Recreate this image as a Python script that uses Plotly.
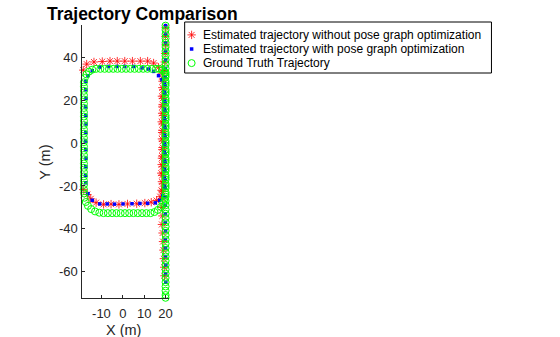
import plotly.graph_objects as go

# ---------------- data ----------------
# Ground truth trajectory
gt_x = [
    # right vertical column
    20, 20, 20, 20, 20, 20, 20, 20, 20, 20, 20, 20, 20, 20, 20, 20, 20, 20, 20, 20,
    20, 20, 20, 20, 20, 20, 20, 20, 20, 20, 20, 20, 20, 20, 20, 20, 20, 20, 20, 20,
    20, 20, 20, 20, 20, 20, 20, 20, 20, 20, 20, 20, 20, 20, 20, 20, 20, 20, 20, 20,
    20, 20, 20, 20, 20,
    # right column, second pass
    20, 20, 20, 20, 20, 20, 20, 20, 20, 20, 20, 20, 20, 20, 20,
    # top-right corner
    19.5, 18.5, 17.0,
    # top row
    15.5, 13.5, 11.5, 9.5, 7.5, 5.5, 3.5, 1.5, -0.5, -2.5, -4.5, -6.5, -8.5, -10.5, -12.5,
    # top-left corner
    -14.3, -15.8, -17.0, -17.8,
    # left column
    -18.2, -18.2, -18.2, -18.2, -18.2, -18.2, -18.2, -18.2, -18.2, -18.2, -18.2, -18.2, -18.2,
    -18.2, -18.2, -18.2, -18.2, -18.2, -18.2, -18.2, -18.2, -18.2, -18.2, -18.2, -18.2, -18.2,
    # bottom-left corner
    -18.1, -17.9, -17.3, -16.3, -14.8, -13.0, -11.0,
    # bottom row
    -9, -7, -5, -3, -1, 1, 3, 5, 7, 9, 11, 13,
    # bottom-right corner
    14.8, 16.4, 17.8, 18.9, 19.6,
]
gt_y = [
    55, 53, 51, 49, 47, 45, 43, 41, 39, 37, 35, 33, 31, 29, 27, 25, 23, 21, 19, 17,
    15, 13, 11, 9, 7, 5, 3, 1, -1, -3, -5, -7, -9, -11, -13, -15, -17, -19, -21, -23,
    -25, -27, -29, -31, -33, -35, -37, -39, -41, -43, -45, -47, -49, -51, -53, -55, -57, -59, -61, -63,
    -65, -67, -69, -71, -72.3,
    32, 28, 24, 20, 16, 12, 8, 4, 0, -4, -8, -12, -16, -20, -24,
    33.3, 34.2, 34.8,
    34.8, 34.8, 34.8, 34.8, 34.8, 34.8, 34.8, 34.8, 34.8, 34.8, 34.8, 34.8, 34.8, 34.8, 34.8,
    34.4, 33.5, 32.2, 30.5,
    28.5, 26.5, 24.5, 22.5, 20.5, 18.5, 16.5, 14.5, 12.5, 10.5, 8.5, 6.5, 4.5,
    2.5, 0.5, -1.5, -3.5, -5.5, -7.5, -9.5, -11.5, -13.5, -15.5, -17.5, -19.5, -21.5,
    -23.5, -25.5, -27.5, -29.3, -30.8, -31.9, -32.5,
    -32.7, -32.7, -32.7, -32.7, -32.7, -32.7, -32.7, -32.7, -32.7, -32.7, -32.7, -32.7,
    -32.2, -31.2, -29.8, -28.0, -26.0,
]

# Estimated trajectory without pose graph optimization
raw_x = [
    # vertical column
    20, 19.9, 20, 19.8, 19.6, 19.4, 18.8, 18.5, 18.3, 18.6, 18.4, 18.2, 18.5, 18.3, 18.6,
    18.4, 18.2, 18.0, 18.3, 18.1, 18.4, 18.2, 18.5, 18.3, 18.6, 18.8, 19.0, 19.2, 19.4, 19.5,
    # top-right corner and top row
    18.3, 16.7, 14.4, 11.6, 8.2, 4.5, 0.9, -2.6, -6.0, -9.6, -13.5, -16.9, -18.5, -19.3,
    # left column
    -19.3, -19.4, -19.2, -19.4, -19.3, -19.5, -19.3, -19.2, -19.4, -19.3, -19.4, -19.3, -19.4,
    # bottom-left corner
    -18.5, -16.6, -15.0, -12.5,
    # bottom row
    -9.0, -5.5, -1.8, 2.2, 6.5, 10.3, 13.3,
    # bottom-right corner
    15.8, 17.5, 18.6,
    # right column, second pass
    18.7, 18.4, 18.6, 18.3, 18.5, 18.7, 18.4, 18.6, 18.8, 18.5, 18.7, 18.9, 18.6,
]
raw_y = [
    54, 50, 46, 42, 38, 34, 30, 26, 22, 18, 14, 10, 6, 2, -2,
    -6, -10, -14, -18, -22, -26, -30, -34, -38, -42, -46, -50, -54, -58, -62,
    32.5, 35.5, 37.5, 38.4, 38.4, 38.4, 38.4, 38.4, 38.4, 38.2, 38.0, 37.0, 34.2, 30.5,
    26.8, 23.0, 19.2, 15.4, 11.6, 7.8, 4.0, 0.2, -3.6, -7.4, -11.2, -15.0, -18.5,
    -21.7, -24.0, -26.0, -27.8,
    -28.6, -28.5, -28.6, -28.4, -28.3, -28.0, -27.6,
    -26.8, -25.0, -22.5,
    -19, -15, -11, -7, -3, 1, 5, 9, 13, 17, 21, 25, 29,
]

# Estimated trajectory with pose graph optimization
opt_x = [
    # vertical column
    20, 20, 20, 20, 20, 19.9, 19.8, 19.8, 19.7, 19.8, 19.8, 19.7, 19.8, 19.8, 19.7, 19.8,
    19.8, 19.7, 19.8, 19.8, 19.8, 19.9, 19.9, 19.9, 20, 19.9, 20, 20, 20.1, 20, 20.1,
    # top-right corner and top row
    18.3, 16.7, 14.4, 12.0, 9.0, 5.1, 0.9, -2.7, -6.8, -10.7, -14.3, -16.3, -17.3,
    # left column
    -17.3, -17.2, -17.4, -17.3, -17.2, -17.3, -17.4, -17.3, -17.2, -17.3, -17.4, -17.3,
    # bottom-left corner
    -16.3, -14.3,
    # bottom row
    -10.8, -7.3, -3.9, 0.1, 4.3, 8.0, 11.6,
    # bottom-right corner
    15.2, 17.2, 18.7,
    # right column, second pass
    19.5, 19.4, 19.5, 19.6, 19.4, 19.5, 19.6, 19.5, 19.4, 19.5, 19.6, 19.5, 19.5,
]
opt_y = [
    55, 51, 47, 43, 39, 35, 31, 27, 23, 19, 15, 11, 7, 3, -1, -5,
    -9, -13, -17, -21, -25, -29, -33, -37, -41, -45, -49, -53, -57, -61, -65,
    29.7, 31.6, 33.6, 34.7, 35.2, 35.9, 35.9, 35.9, 35.9, 35.6, 33.9, 31.6, 29.0,
    25, 21, 17, 13, 9, 5, 1, -3, -7, -11, -15, -18.5,
    -23.6, -26.7,
    -28.4, -28.4, -28.5, -28.4, -28.3, -28.2, -28.1,
    -27.9, -26.7, -24.5,
    -20, -16, -12, -8, -4, 0, 4, 8, 12, 16, 20, 24, 28,
]

series_names = [
    "Estimated trajectory without pose graph optimization",
    "Estimated trajectory with pose graph optimization",
    "Ground Truth Trajectory",
]
x_ticks = [-10, 0, 10, 20]
y_ticks = [-60, -40, -20, 0, 20, 40]

# ---------------- styles ----------------
FONT = "Liberation Sans, Arial, Helvetica, sans-serif"
AX = "#262626"
markers = [
    dict(symbol="asterisk-open", size=7, color="#ff0000", line=dict(color="#ff0000", width=0.8)),
    dict(symbol="square", size=3.5, color="#0000ff", line=dict(width=0)),
    dict(symbol="circle-open", size=7, color="#00ff00", line=dict(color="#00ff00", width=1)),
]

W, H = 560, 337
# plot box in pixels
BOX_L, BOX_R, BOX_T, BOX_B = 83, 170, 25, 298


def px_x(p):
    return p / W


def px_y(p):
    return 1 - p / H


fig = go.Figure()
for xs, ys, name, mk in zip([raw_x, opt_x, gt_x], [raw_y, opt_y, gt_y], series_names, markers):
    fig.add_trace(go.Scatter(x=xs, y=ys, mode="markers", name=name, cliponaxis=False,
                             marker=mk, showlegend=False, hoverinfo="x+y"))

# legend keys (drawn on a hidden helper axis, one row per series)
LEG_L, LEG_R, LEG_T, LEG_B = 186, 495, 22, 73
ROW0, ROW_STEP = 34.9, 14.1
for name, mk in zip(series_names, markers):
    fig.add_trace(go.Scatter(x=[7], y=[name], mode="markers", marker=mk, xaxis="x2", yaxis="y2",
                             showlegend=False, hoverinfo="skip", cliponaxis=False))

annotations = [
    dict(text=name, xref="x2", yref="y2", x=16, y=name, xanchor="left", yanchor="middle",
         showarrow=False, font=dict(size=12, color="black"))
    for name in series_names
]
annotations += [
    dict(text="X (m)", xref="paper", yref="paper", x=px_x(124), y=px_y(330),
         xanchor="center", yanchor="middle", showarrow=False, font=dict(size=14.5, color=AX)),
    dict(text="Y (m)", xref="paper", yref="paper", x=px_x(45), y=px_y(162), textangle=-90,
         xanchor="center", yanchor="middle", showarrow=False, font=dict(size=14.5, color=AX)),
]

fig.update_layout(
    width=W, height=H,
    margin=dict(l=0, r=0, t=0, b=0, pad=0),
    paper_bgcolor="white", plot_bgcolor="white",
    font=dict(family=FONT, size=12, color=AX),
    showlegend=False,
    title=dict(text="<b>Trajectory Comparison</b>", font=dict(size=17.5, color="black"),
               x=47 / W, xanchor="left", xref="container",
               y=1 - 14 / H, yanchor="middle", yref="container"),
    annotations=annotations,
    shapes=[dict(type="rect", xref="paper", yref="paper",
                 x0=px_x(LEG_L), x1=px_x(LEG_R), y0=px_y(LEG_B), y1=px_y(LEG_T),
                 line=dict(color="black", width=1), fillcolor="rgba(0,0,0,0)")],
    xaxis=dict(domain=[px_x(BOX_L), px_x(BOX_R)], anchor="y"),
    yaxis=dict(domain=[px_y(BOX_B), px_y(BOX_T)], anchor="x"),
    xaxis2=dict(domain=[px_x(LEG_L), px_x(LEG_R)], range=[0, LEG_R - LEG_L], anchor="y2",
                visible=False, fixedrange=True),
    yaxis2=dict(domain=[px_y(ROW0 + 2.5 * ROW_STEP), px_y(ROW0 - 0.5 * ROW_STEP)],
                type="category", categoryarray=series_names[::-1], range=[-0.5, 2.5],
                anchor="x2", visible=False, fixedrange=True),
)
fig.update_layout(
    xaxis=dict(
        range=[-18.9, 21.5], tickvals=x_ticks, ticktext=[str(v) for v in x_ticks],
        ticks="inside", ticklen=3, tickcolor=AX,
        showline=True, linecolor=AX, linewidth=1, showgrid=False, zeroline=False,
        tickfont=dict(size=13, color=AX), ticklabelstandoff=3,
    ),
    yaxis=dict(
        range=[-72.4, 55.3], tickvals=y_ticks, ticktext=[str(v) for v in y_ticks],
        ticks="inside", ticklen=3, tickcolor=AX,
        showline=True, linecolor=AX, linewidth=1, showgrid=False, zeroline=False,
        tickfont=dict(size=13, color=AX), ticklabelstandoff=1,
    ),
)

fig.write_html("out.html")
